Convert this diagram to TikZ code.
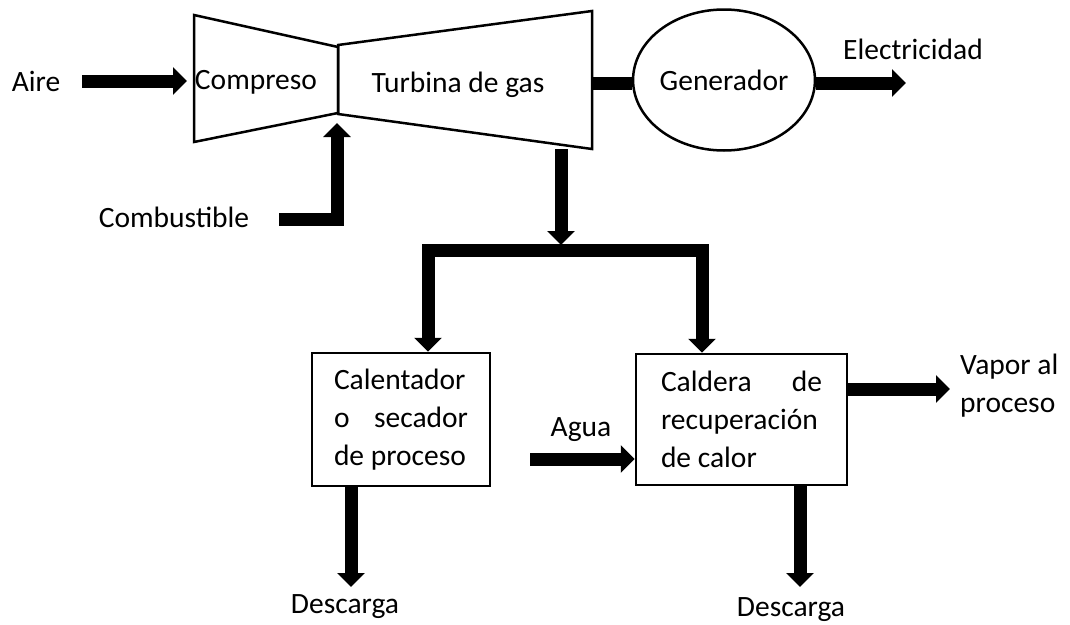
\documentclass[tikz,border=0pt]{standalone}
\usepackage{fontspec}
\setmainfont{Carlito}
\usepackage{tikz}
\tikzstyle{txt}=[inner sep=0pt]
\tikzstyle{unit}=[draw,line width=2.5pt]
\tikzstyle{gen}=[ellipse,draw,line width=2.5pt,inner sep=0pt,
minimum width=151pt,minimum height=141pt]
\tikzstyle{box}=[rectangle,draw,line width=2.5pt,inner sep=0pt,align=flush left]
\tikzstyle{flow}=[line width=13pt,-{Triangle[width=27pt,length=14pt]}]
\tikzstyle{shaft}=[line width=13pt]
\usetikzlibrary{arrows.meta,positioning,shapes}
\hyphenpenalty=10000

\begin{document}
\begin{tikzpicture}[x=1pt,y=-1pt,font=\fontsize{29.5pt}{38pt}\selectfont]
			\useasboundingbox (0,0) rectangle (1070,624);

			% compresor y turbina
			\coordinate (c1) at (194,15);
			\coordinate (c2) at (338,47);
			\coordinate (c3) at (338,113);
			\coordinate (c4) at (194,142);
			\coordinate (t1) at (338,45);
			\coordinate (t2) at (592,11);
			\coordinate (t3) at (592,149);
			\coordinate (t4) at (338,114);
			\draw[unit] (c1) -- (c2) -- (c3) -- (c4) -- cycle;
			\draw[unit] (t1) -- (t2) -- (t3) -- (t4) -- cycle;

			\node[txt] (aire) at (36,81) {Aire};
			\node[txt] (comp) at (256,82) {Compreso};
			\node[txt] (turb) at (458,85) {Turbina de gas};
			\node[gen] (gen) at (724,80) {Generador};
			\node[txt] (elec) at (913,49) {Electricidad};
			\node[txt] (comb) at (174,217) {Combustible};

			\node[box,text width=134pt,minimum width=178pt,minimum height=133pt]
				(cal) at (401,419.5) {Calentador\\o\hfill secador\\de proceso};
			\node[box,text width=161pt,minimum width=211pt,minimum height=131pt]
				(cald) at (741.5,419.5) {Caldera\hfill de\\recuperación\\de calor};

			\node[txt] (agua) at (581,430) {Agua};
			\node[txt,align=left,anchor=west] (vapor) at (960,386) {Vapor al\\proceso};
			\node[txt] (desc1) at (345,607) {Descarga};
			\node[txt] (desc2) at (791,610) {Descarga};

			% conexiones
			\coordinate (cin) at (187,81);
			\coordinate (tout) at (592,83);
			\coordinate (eout) at (906,83);
			\coordinate (fuel) at (337,123);
			\coordinate (texh) at (561,149);
			\coordinate (split) at (561,245);
			\coordinate (bar) at (561,250);
			\coordinate (ain) at (530,459);
			\coordinate (vout) at (950,389);
			\coordinate (d1) at (351,587);
			\coordinate (d2) at (800,587);

			\draw[flow] ([xshift=22pt]aire.east) -- (cin);
			\draw[shaft] (tout) -- (tout -| gen.west);
			\draw[flow] (tout -| gen.east) -- (eout);
			\draw[flow] ([xshift=30pt,yshift=-2pt]comb.east) -| (fuel);
			\draw[flow] (texh) -- (split);
			\draw[flow] (bar) -| ([xshift=27pt]cal.north);
			\draw[flow] (bar) -| ([xshift=-39.5pt]cald.north);
			\draw[flow] (ain) -- ([yshift=-39.5pt]cald.west);
			\draw[flow] ([yshift=30.5pt]cald.east) -- (vout);
			\draw[flow] (cal.south -| d1) -- (d1);
			\draw[flow] (cald.south -| d2) -- (d2);
		\end{tikzpicture}
\end{document}
